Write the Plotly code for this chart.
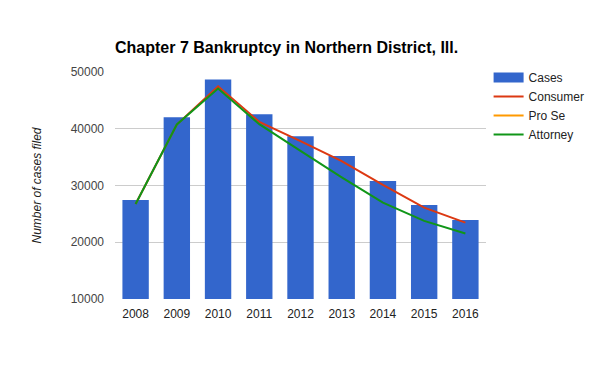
import plotly.graph_objects as go

years = ["2008", "2009", "2010", "2011", "2012", "2013", "2014", "2015", "2016"]
cases = [27450, 42040, 48700, 42570, 38700, 35190, 30790, 26570, 23940]
consumer = [26750, 40750, 47490, 41210, 37820, 34300, 30090, 26100, 23460]
pro_se = [400, 500, 600, 700, 1700, 2900, 3100, 2300, 1900]
attorney = [26750, 40750, 47080, 40810, 36100, 31440, 26980, 23760, 21530]
y_ticks = [10000, 20000, 30000, 40000, 50000]
y_tick_labels = ["10000", "20000", "30000", "40000", "50000"]

font_family = "Arial, Liberation Sans, sans-serif"

fig = go.Figure()
fig.add_trace(go.Bar(x=years, y=cases, name="Cases", showlegend=False,
                     marker=dict(color="#3366cc", line=dict(width=0))))
# legend swatch for the bars (wide rectangle, as in the reference)
fig.add_trace(go.Scatter(x=[None], y=[None], name="Cases", mode="lines",
                         line=dict(color="#3366cc", width=12)))
fig.add_trace(go.Scatter(x=years, y=consumer, name="Consumer", mode="lines", line=dict(color="#dc3912", width=2)))
fig.add_trace(go.Scatter(x=years, y=pro_se, name="Pro Se", mode="lines", line=dict(color="#ff9900", width=2)))
fig.add_trace(go.Scatter(x=years, y=attorney, name="Attorney", mode="lines", line=dict(color="#109618", width=2)))

fig.update_layout(
    width=600, height=371,
    margin=dict(l=115, r=114, t=72, b=72, autoexpand=False),
    paper_bgcolor="white", plot_bgcolor="white",
    font=dict(family=font_family, size=12, color="#444444"),
    title=dict(text="<b>Chapter 7 Bankruptcy in Northern District, Ill.</b>",
               x=115/600, xanchor="left", y=1-47/371, yanchor="middle",
               font=dict(size=16, color="#000000", family=font_family)),
    bargap=0.36,
    showlegend=True,
    legend=dict(x=1.007, xanchor="left", y=1.04, yanchor="top",
                font=dict(size=12, color="#222222"), tracegroupgap=0,
                itemwidth=30, bgcolor="rgba(0,0,0,0)"),
    xaxis=dict(showgrid=False, showline=False, ticks="", ticklabelstandoff=6,
               tickfont=dict(size=12, color="#222222")),
    yaxis=dict(range=[10000, 50000], tickvals=y_ticks, ticktext=y_tick_labels,
               showgrid=True, gridcolor="#cccccc",
               gridwidth=1, zeroline=False, showline=False, ticks="", ticklabelstandoff=10,
               tickfont=dict(size=12, color="#444444"), automargin=False,
               title=dict(text="<i>Number of cases filed</i>", font=dict(size=12, color="#222222"), standoff=26)),
)

fig.write_html("out.html")
